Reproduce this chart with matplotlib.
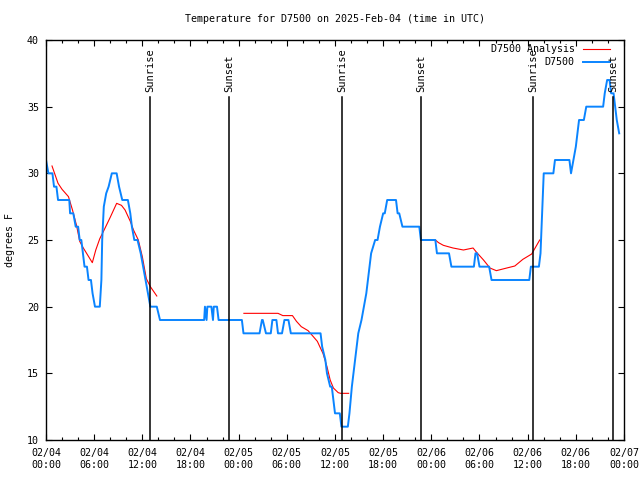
import numpy as np
import matplotlib
matplotlib.use("Agg")
import matplotlib.pyplot as plt
from matplotlib.ticker import MultipleLocator

# Hours since 02/04 00:00 UTC and temperature (F).
obs_hours = [0.0, 0.3, 0.8, 1.0, 1.3, 1.5, 2.9, 3.0, 3.4, 3.7, 4.0, 4.2, 4.4, 4.6,
             4.8, 5.1, 5.3, 5.6, 5.8, 6.1, 6.7, 6.9, 7.0, 7.2, 7.5, 7.8, 8.0, 8.2,
             8.8, 9.1, 9.5, 10.2, 10.5, 10.7, 11.0, 11.4, 11.8, 12.1, 12.4, 12.7,
             13.0, 13.8, 14.2, 19.7, 19.8, 20.0, 20.1, 20.6, 20.8, 20.9, 21.3,
             21.5, 24.4, 24.6, 26.6, 26.9, 27.0, 27.4, 28.0, 28.2, 28.7, 28.9,
             29.4, 29.7, 30.2, 30.5, 34.2, 34.4, 34.8, 35.0, 35.4, 35.6, 35.8,
             36.0, 36.6, 36.8, 37.6, 37.8, 38.1, 38.5, 38.9, 39.3, 39.6, 39.9,
             40.1, 40.3, 40.5, 41.0, 41.3, 41.6, 42.0, 42.2, 42.5, 43.6, 43.8,
             44.0, 44.4, 46.5, 46.7, 48.5, 48.7, 50.2, 50.5, 53.3, 53.5, 53.7,
             54.0, 55.2, 55.5, 60.2, 60.4, 61.4, 61.6, 61.8, 62.0, 63.2, 63.4,
             65.2, 65.4, 65.7, 66.0, 66.2, 66.4, 67.0, 67.3, 69.4, 69.6, 69.9,
             70.2, 70.4, 70.7, 70.9, 71.1, 71.4]
obs_temps = [31, 30, 30, 29, 29, 28, 28, 27, 27, 26, 26, 25, 25, 24,
             23, 23, 22, 22, 21, 20, 20, 22, 25, 27.5, 28.5, 29, 29.5, 30,
             30, 29, 28, 28, 27, 26, 25, 25, 24, 23, 22, 21,
             20, 20, 19, 19, 20, 19, 20, 20, 19, 20, 20,
             19, 19, 18, 18, 19, 19, 18, 18, 19, 19, 18,
             18, 19, 19, 18, 18, 17, 16, 15, 14, 14, 13,
             12, 12, 11, 11, 12, 14, 16, 18, 19, 20, 21,
             22, 23, 24, 25, 25, 26, 27, 27, 28, 28, 27,
             27, 26, 26, 25, 25, 24, 24, 23, 23, 24, 24,
             23, 23, 22, 22, 23, 23, 24, 27, 30, 30, 31,
             31, 30, 31, 32, 33, 34, 34, 35, 35, 36, 37,
             37, 36, 36, 35, 34, 33]

# Analysis series, three separate runs (NaN breaks the line)
ana_hours = [0.75, 1.5, 2.0, 2.8, 3.3, 3.8, 4.2, 4.65, 5.77, 6.2, 6.7, 7.2, 8.0,
             8.8, 9.4, 9.85, 10.5, 10.9, 11.5, 12.0, 12.5, 13.0, 13.8, np.nan,
             24.65, 28.9, 29.5, 30.7, 31.2, 31.8, 32.65, 33.3, 33.8, 34.3, 34.5,
             35.0, 35.4, 35.8, 36.4, 36.7, 37.7, np.nan,
             46.7, 48.5, 48.9, 49.5, 50.7, 52.0, 53.2, 53.6, 54.5, 55.3, 56.1,
             57.4, 58.4, 59.4, 60.5, 61.5]
ana_temps = [30.55, 29.25, 28.8, 28.25, 27.25, 26.1, 24.9, 24.4, 23.3, 24.25, 25.1,
             25.7, 26.7, 27.75, 27.6, 27.25, 26.4, 25.75, 25.0, 23.75, 22.1, 21.5,
             20.8, np.nan,
             19.5, 19.5, 19.33, 19.33, 18.9, 18.5, 18.2, 17.75, 17.4, 16.75, 16.5,
             15.5, 14.5, 13.9, 13.55, 13.5, 13.5, np.nan,
             25.0, 25.0, 24.8, 24.6, 24.4, 24.25, 24.4, 24.1, 23.5, 22.9, 22.7,
             22.9, 23.05, 23.55, 23.95, 25.0]

sunrise_hours = [13.0, 36.9, 60.7]
sunset_hours = [22.83, 46.74, 70.65]

tick_hours = list(range(0, 73, 6))
tick_labels = ["02/%02d\n%02d:00" % (4 + h // 24, h % 24) for h in tick_hours]

MONO = "DejaVu Sans Mono"
FS = 7.2
BLUE = "#0a84ff"
RED = "#ff0000"

fig = plt.figure(figsize=(6.4, 4.8), dpi=100)
ax = fig.add_axes([46 / 640, 40 / 480, 578 / 640, 400 / 480])

ax.plot(ana_hours, ana_temps, color=RED, lw=0.8)
ax.plot(obs_hours, obs_temps, color=BLUE, lw=1.4)

line_top = (440 - 97) / 400
label_y = (440 - 92) / 400
for name, hours in (("Sunrise", sunrise_hours), ("Sunset", sunset_hours)):
    for h in hours:
        ax.axvline(h, ymin=0, ymax=line_top, color="black", lw=1.1)
        ax.text(h, label_y, name, transform=ax.get_xaxis_transform(),
                rotation=90, ha="center", va="bottom", family=MONO, fontsize=7.5)

ax.set_xlim(0, 72)
ax.set_ylim(10, 40)
ax.set_xticks(tick_hours)
ax.set_xticklabels(tick_labels)
ax.xaxis.set_minor_locator(MultipleLocator(2))
ax.yaxis.set_major_locator(MultipleLocator(5))
ax.tick_params(which="both", direction="in", top=True, right=True,
               labelsize=FS, color="black")
ax.tick_params(which="major", length=4.5, width=0.8)
ax.tick_params(which="minor", length=2.5, width=0.8)
ax.tick_params(axis="y", pad=5)
ax.tick_params(axis="x", pad=6)
for lab in ax.get_xticklabels() + ax.get_yticklabels():
    lab.set_family(MONO)
for sp in ax.spines.values():
    sp.set_linewidth(1.0)
    sp.set_color("black")

# legend, gnuplot style: right-aligned text then line sample
for row, (name, col, lw) in enumerate((("D7500 Analysis", RED, 0.8),
                                       ("D7500", BLUE, 1.4))):
    yy = (440 - 49 - 13 * row) / 400
    ax.text(0.915, yy, name, transform=ax.transAxes, ha="right", va="center",
            family=MONO, fontsize=FS)
    ax.plot([0.929, 0.976], [yy, yy], transform=ax.transAxes, color=col, lw=lw)

# title centred over the plot area, as gnuplot does
ax.text(0.5, (440 - 19) / 400, "Temperature for D7500 on 2025-Feb-04 (time in UTC)",
        transform=ax.transAxes, ha="center", va="center", family=MONO, fontsize=FS)
fig.text(10 / 640, 0.5, "degrees F", rotation=90, ha="center", va="center",
         family=MONO, fontsize=FS)

fig.savefig("out.png", dpi=100)
